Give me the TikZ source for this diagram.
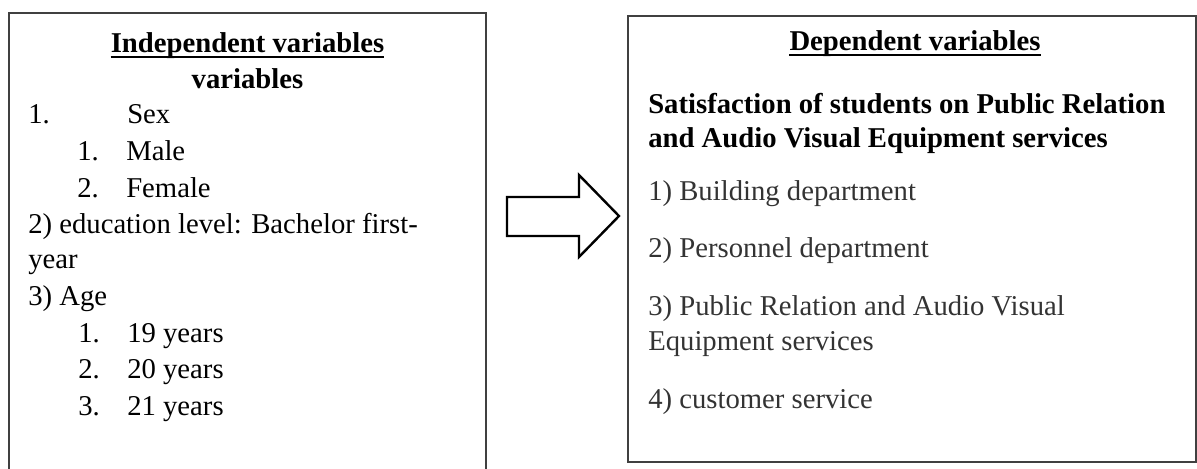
\documentclass[tikz,border=0pt]{standalone}
\usepackage{fontspec}
\setmainfont{Liberation Serif}
\begin{document}
\tikzset{
  panel/.style={draw=black!75, line width=0.9pt},
  txt/.style={anchor=base west, inner sep=0pt, font=\fontsize{20.4}{26}\selectfont},
  head/.style={anchor=base, inner sep=0pt, font=\fontsize{20.4}{26}\selectfont\bfseries},
  uline/.style={line width=1.1pt},
  blockarrow/.style={draw, line width=1.7pt, line join=miter, fill=white}
}
\begin{tikzpicture}[x=0.025cm, y=-0.025cm]

\useasboundingbox (0,0) rectangle (1197,468);
\clip (0,0) rectangle (1197,468);

% left panel, its bottom edge runs off the page
\draw [panel] (9,480) -- (9,13) -- (486,13) -- (486,480);
% right panel
\draw [panel] (628,16) rectangle (1196,462);

% block arrow between the panels
\draw [blockarrow] (507,197) -- (579,197) -- (579,175) -- (619,216) -- (579,257) -- (579,236) -- (507,236) -- cycle;

% independent side
\node [head] (indep) at (247.5,52) {Independent variables};
\draw [uline] ([yshift=-3.6pt]indep.base west) -- ([yshift=-3.6pt]indep.base east);
\node [head] (indepb) at (247.5,88) {variables};

\node [txt] (sexnum) at (28,123) {1.};
\node [txt] (sex) at (127,123) {Sex};
\foreach \i/\y/\lab in {1/160/Male,2/197/Female}
{
\node [txt] (sexnum\i) at (77,\y) {\i.};
\node [txt] (sex\i) at (126,\y) {\lab};
}
\node [txt] (edu) at (28,233) {2) education level: Bachelor first-};
\node [txt] (edub) at (28,268) {year};
\node [txt] (age) at (28,305) {3) Age};
\foreach \i/\y/\yr in {1/342/19,2/378/20,3/415/21}
{
\node [txt] (agenum\i) at (78,\y) {\i.};
\node [txt] (age\i) at (127,\y) {\yr\ years};
}

% dependent side
\node [head] (dep) at (915,50) {Dependent variables};
\draw [uline] ([yshift=-3.6pt]dep.base west) -- ([yshift=-3.6pt]dep.base east);
\node [txt, font=\fontsize{20.4}{26}\selectfont\bfseries] (sat) at (648,113) {Satisfaction of students on Public Relation};
\node [txt, font=\fontsize{20.4}{26}\selectfont\bfseries] (satb) at (648,147) {and Audio Visual Equipment services};

\begin{scope}[black!80]
\node [txt] (build) at (648,200) {1) Building department};
\node [txt] (pers) at (648,257) {2) Personnel department};
\node [txt] (prav) at (648,315) {3) Public Relation and Audio Visual};
\node [txt] (pravb) at (648,350) {Equipment services};
\node [txt] (cust) at (648,408) {4) customer service};
\end{scope}

\end{tikzpicture}
\end{document}
